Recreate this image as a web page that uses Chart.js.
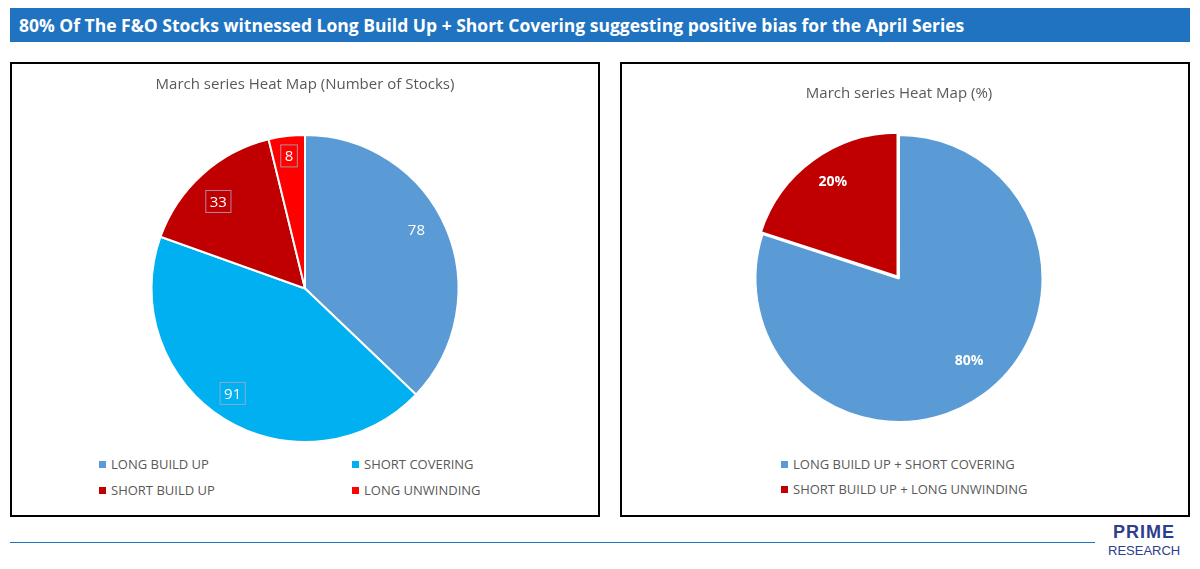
<!DOCTYPE html>
<html><head><meta charset="utf-8">
<script src="https://cdn.jsdelivr.net/npm/chart.js@4"></script>
<style>
body{margin:0;width:1200px;height:569px;background:#fff;font-family:"Open Sans",sans-serif;position:relative;overflow:hidden}
#bar{position:absolute;left:10px;top:8px;width:1180px;height:34px;background:#1f73c0;color:#fff;font-weight:bold;font-size:17.5px;line-height:34px;box-sizing:border-box;padding-left:9px}
.box{position:absolute;top:62px;height:455px;border:2px solid #000;box-sizing:border-box}
canvas{position:absolute;left:0;top:0}
.leg{position:absolute;font-size:13px;color:#595959;white-space:nowrap}
.leg span{display:inline-block;width:7px;height:7px;margin-right:5px;vertical-align:1px}
#line{position:absolute;left:10px;top:542px;width:1085px;height:1px;background:#1f73c0}
#logo{position:absolute;left:1108px;top:522px;text-align:center;line-height:14px}
</style></head><body>
<div id="bar">80% Of The F&amp;O Stocks witnessed Long Build Up + Short Covering suggesting positive bias for the April Series</div>
<div class="box" style="left:10px;width:590px"><div style="position:relative;width:586px;height:388px"><canvas id="c1"></canvas></div></div>
<div class="box" style="left:620px;width:570px"><div style="position:relative;width:566px;height:380px"><canvas id="c2"></canvas></div></div>
<div id="legs"></div>
<div id="line"></div>
<div id="logo"><div style="font:bold 18px 'Liberation Sans';color:#2d3e8c;letter-spacing:1px">PRIME</div><div style="font:13px 'Liberation Sans';color:#2d3e8c">RESEARCH</div></div>
<script>
const countLabels = ['LONG BUILD UP', 'SHORT COVERING', 'SHORT BUILD UP', 'LONG UNWINDING'];
const countValues = [78, 91, 33, 8];
const countColors = ['#5b9bd5', '#00b0f0', '#c00000', '#ff0000'];
const pctLabels = ['LONG BUILD UP + SHORT COVERING', 'SHORT BUILD UP + LONG UNWINDING'];
const pctValues = [80, 20];
const pctColors = ['#5b9bd5', '#c00000'];

// legends (positions)
function legend(labels, colors, spots) {
  let h = '';
  labels.forEach((l, i) => {
    h += `<div class="leg" style="left:${spots[i][0]}px;top:${spots[i][1]}px"><span style="background:${colors[i]}"></span>${l}</div>`;
  });
  document.getElementById('legs').innerHTML += h;
}
legend(countLabels, countColors, [[99, 455], [352, 455], [99, 481], [352, 481]]);
legend(pctLabels, pctColors, [[781, 455], [781, 480]]);

const sliceLabels = {
  id: 'sliceLabels',
  afterDatasetsDraw(chart, args, o) {
    const ctx = chart.ctx;
    chart.getDatasetMeta(0).data.forEach((arc, i) => {
      const mid = (arc.startAngle + arc.endAngle) / 2 + o.rot[i];
      const r = arc.outerRadius * o.pos[i];
      const x = arc.x + Math.cos(mid) * r, y = arc.y + Math.sin(mid) * r;
      const txt = o.fmt(chart.data.datasets[0].data[i]);
      ctx.save();
      ctx.font = o.font;
      ctx.fillStyle = '#fff';
      ctx.textAlign = 'center';
      ctx.textBaseline = 'middle';
      if (o.boxed[i]) {
        const w = ctx.measureText(txt).width + 8;
        ctx.strokeStyle = 'rgba(170,170,200,0.8)';
        ctx.lineWidth = 1;
        ctx.strokeRect(x - w / 2, y - 11, w, 22);
      }
      ctx.fillText(txt, x, y + 1);
      ctx.restore();
    });
  }
};

new Chart(document.getElementById('c1'), {
  type: 'pie',
  data: { labels: countLabels, datasets: [{ data: countValues, backgroundColor: countColors, borderColor: '#fff', borderWidth: 2 }] },
  options: {
    responsive: true, maintainAspectRatio: false, animation: false,
    layout: { padding: { bottom: 9 } },
    plugins: {
      legend: { display: false }, tooltip: { enabled: false },
      title: { display: true, text: 'March series Heat Map (Number of Stocks)', color: '#595959', font: { size: 15, family: 'Open Sans', weight: 'normal' }, padding: { top: 12, bottom: 40 } },
      sliceLabels: { pos: [0.82, 0.83, 0.8, 0.87], rot: [-0.08, 0.05, -0.05, 0], boxed: [false, true, true, true], font: '15px "Open Sans"', fmt: v => v }
    }
  },
  plugins: [sliceLabels]
});

new Chart(document.getElementById('c2'), {
  type: 'pie',
  data: { labels: pctLabels, datasets: [{ data: pctValues, backgroundColor: pctColors, borderColor: '#fff', borderWidth: 2, offset: [0, 10] }] },
  options: {
    responsive: true, maintainAspectRatio: false, animation: false,
    layout: { padding: { bottom: 16, left: 0, right: 12 } },
    plugins: {
      legend: { display: false }, tooltip: { enabled: false },
      title: { display: true, text: 'March series Heat Map (%)', color: '#595959', font: { size: 15, family: 'Open Sans', weight: 'normal' }, padding: { top: 21, bottom: 26 } },
      sliceLabels: { pos: [0.75, 0.82], rot: [-0.08, 0.03], boxed: [false, false], font: 'bold 14px "Open Sans"', fmt: v => v + '%' }
    }
  },
  plugins: [sliceLabels]
});
</script>
</body></html>
